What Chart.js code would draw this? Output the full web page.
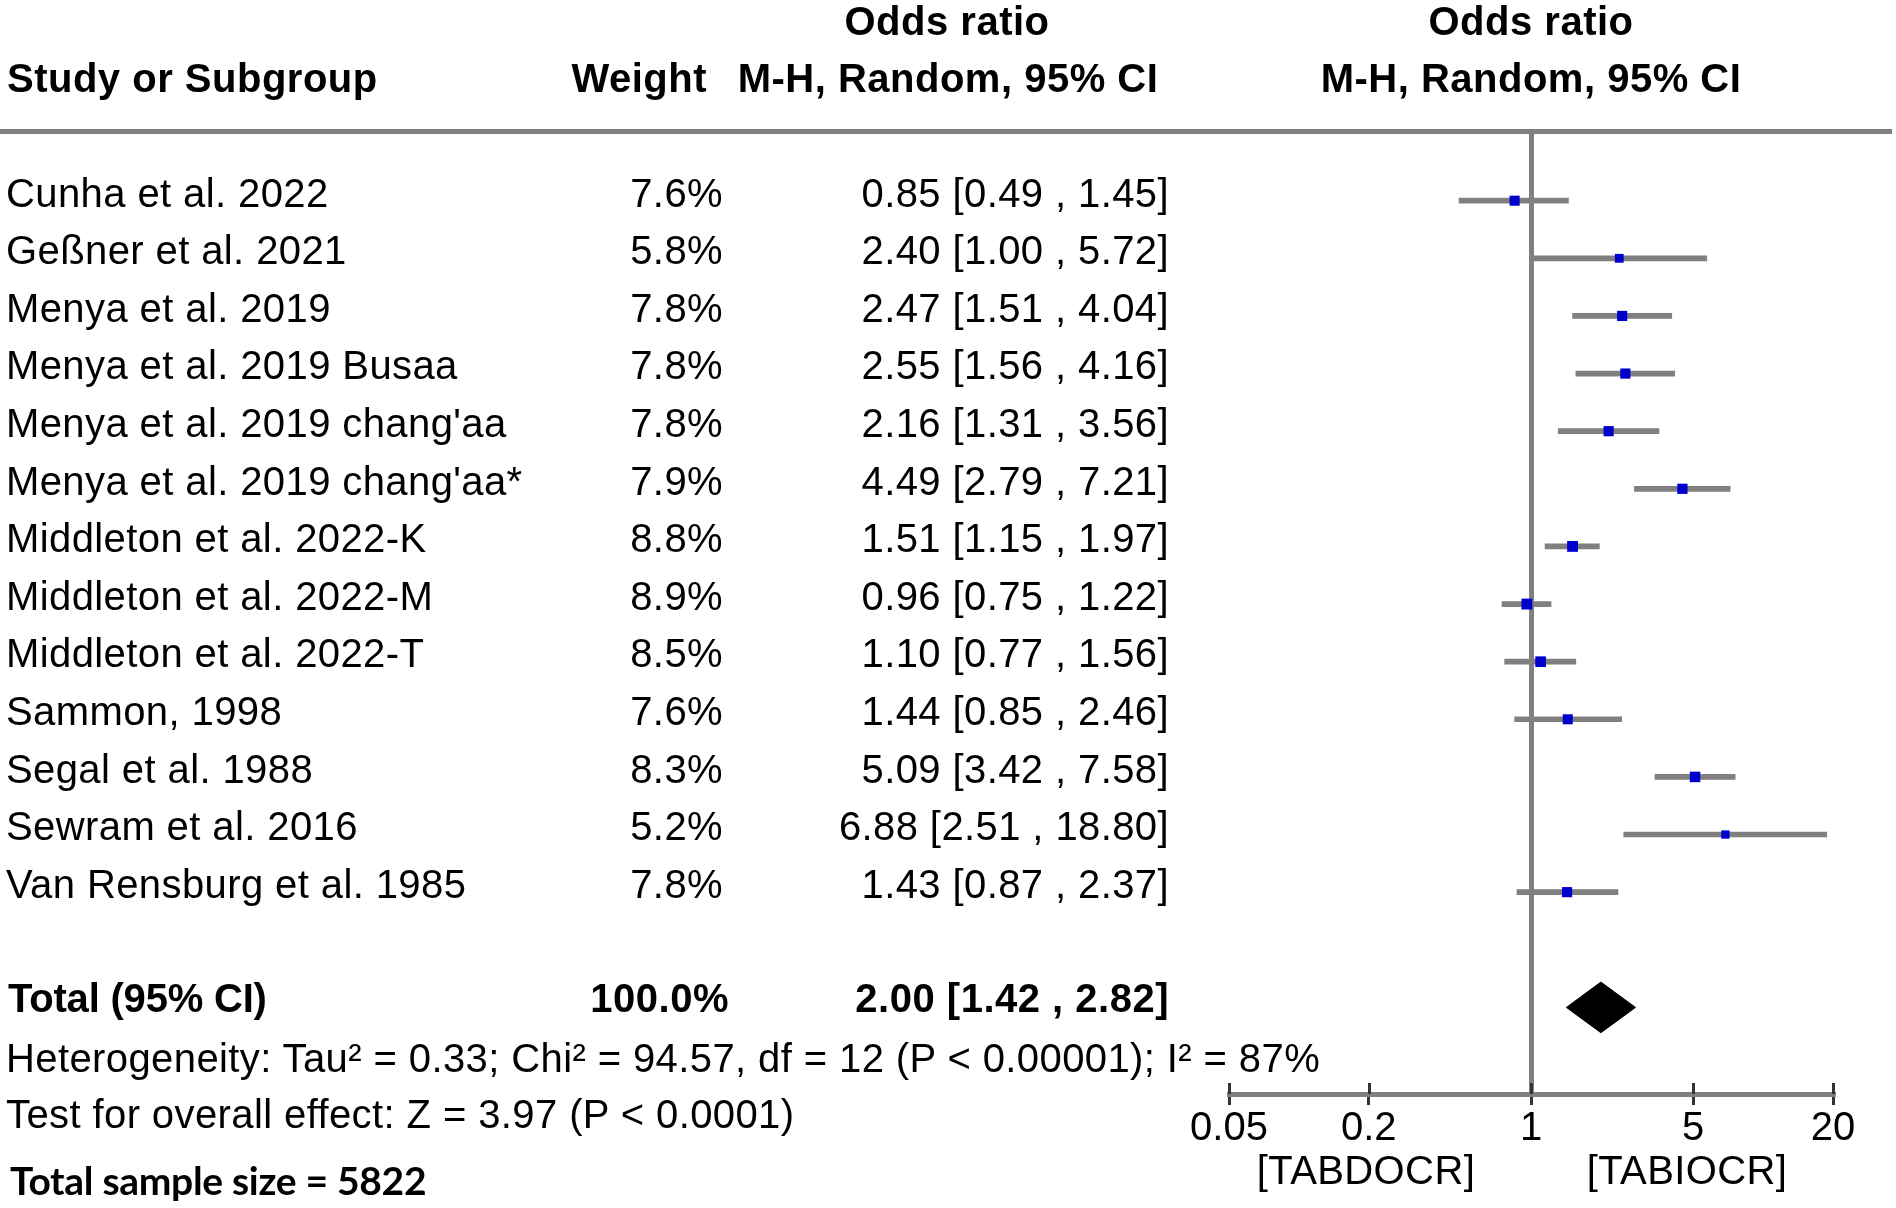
<!DOCTYPE html>
<html><head><meta charset="utf-8">
<script src="https://cdn.jsdelivr.net/npm/chart.js@4.4.0/dist/chart.umd.min.js"></script>
<style>
html,body{margin:0;padding:0;background:#fff;}
#wrap{position:relative;width:1896px;height:1208px;overflow:hidden;background:#fff;}
#c{position:absolute;left:0;top:0;width:1896px;height:1208px;}
.t{position:absolute;white-space:nowrap;font-family:"Liberation Sans",Arial,sans-serif;font-size:40px;line-height:40px;color:#000;letter-spacing:0.4px;}
.b{font-weight:bold;letter-spacing:0.5px;}
.bt{font-weight:bold;letter-spacing:-0.2px;}
.s{font-family:Lato,"Noto Sans",sans-serif;font-weight:bold;font-size:39px;letter-spacing:-0.3px;}
</style></head><body>
<div id="wrap"><canvas id="c" width="1896" height="1208"></canvas></div>
<script>
const studies = ["Cunha et al. 2022","Geßner et al. 2021","Menya et al. 2019","Menya et al. 2019 Busaa","Menya et al. 2019 chang'aa","Menya et al. 2019 chang'aa*","Middleton et al. 2022-K","Middleton et al. 2022-M","Middleton et al. 2022-T","Sammon, 1998","Segal et al. 1988","Sewram et al. 2016","Van Rensburg et al. 1985"];
const weights = [7.6,5.8,7.8,7.8,7.8,7.9,8.8,8.9,8.5,7.6,8.3,5.2,7.8];
const oddsRatio = [0.85,2.40,2.47,2.55,2.16,4.49,1.51,0.96,1.10,1.44,5.09,6.88,1.43];
const ciLow = [0.49,1.00,1.51,1.56,1.31,2.79,1.15,0.75,0.77,0.85,3.42,2.51,0.87];
const ciHigh = [1.45,5.72,4.04,4.16,3.56,7.21,1.97,1.22,1.56,2.46,7.58,18.80,2.37];
const totalWeight = 100.0;
const totalOR = 2.00, totalLow = 1.42, totalHigh = 2.82;
const xTicks = [0.05,0.2,1,5,20];
const xTickLabels = ["0.05","0.2","1","5","20"];
const heterogeneityText = "Heterogeneity: Tau² = 0.33; Chi² = 94.57, df = 12 (P < 0.00001); I² = 87%";
const overallText = "Test for overall effect: Z = 3.97 (P < 0.0001)";
const sampleText = "Total sample size = 5822";
const favourLeft = "[TABDOCR]", favourRight = "[TABIOCR]";

const totalRow = studies.length + 1;
const diamondHalf = 0.44;
const GRAY = '#808080';

const decor = {
  id: 'decor',
  beforeDraw(chart) {
    const c = chart.ctx; c.save();
    c.fillStyle = GRAY; c.fillRect(0, 129, 1892, 5);
    c.restore();
  },
  afterDraw(chart) {
    const xs = chart.scales.x, c = chart.ctx, y = xs.top;
    c.save(); c.strokeStyle = '#333'; c.lineWidth = 3;
    xs.ticks.forEach(t => {
      const px = Math.round(xs.getPixelForValue(t.value)) + 0.5;
      c.beginPath(); c.moveTo(px, y - 11); c.lineTo(px, y); c.stroke();
    });
    c.restore();
  }
};

const ctx = document.getElementById('c').getContext('2d');
const chart = new Chart(ctx, {
  type: 'scatter',
  data: {
    datasets: [
      {
        type: 'bar', indexAxis: 'y',
        data: studies.map((s, i) => ({ y: i, x: [ciLow[i], ciHigh[i]] })),
        backgroundColor: GRAY, borderWidth: 0, barThickness: 5, grouped: false, order: 3
      },
      {
        type: 'scatter', showLine: true, fill: 'shape', tension: 0,
        data: [
          { x: totalLow, y: totalRow }, { x: totalOR, y: totalRow - diamondHalf },
          { x: totalHigh, y: totalRow }, { x: totalOR, y: totalRow + diamondHalf },
          { x: totalLow, y: totalRow }
        ],
        borderColor: '#000', backgroundColor: '#000', borderWidth: 1, pointRadius: 0, order: 2
      },
      {
        type: 'scatter',
        data: oddsRatio.map((v, i) => ({ x: v, y: i })),
        pointStyle: 'rect',
        pointRadius: c => 2.58 * Math.sqrt(weights[c.dataIndex] || 7),
        backgroundColor: '#0000CD', borderWidth: 0, order: 1
      }
    ]
  },
  options: {
    responsive: false, animation: false, devicePixelRatio: 1,
    layout: { padding: { left: 1229, right: 63, top: 130, bottom: 0 } },
    plugins: { legend: { display: false }, tooltip: { enabled: false } },
    scales: {
      x: {
        type: 'logarithmic', min: 0.05, max: 20, position: 'bottom', offset: false,
        afterBuildTicks: s => { s.ticks = xTicks.map(v => ({ value: v })); },
        afterFit: s => { s.height = 114; },
        ticks: {
          autoSkip: false, maxRotation: 0, minRotation: 0, padding: 0, color: '#000',
          font: { family: '"Liberation Sans", Arial, sans-serif', size: 40 },
          callback: (v) => { const k = xTicks.indexOf(v); return k >= 0 ? xTickLabels[k] : ''; }
        },
        grid: {
          offset: false, drawOnChartArea: true, drawTicks: true, tickLength: 11, tickWidth: 3, tickColor: '#333',
          lineWidth: 5,
          color: c => (c.tick && c.tick.value === 1) ? GRAY : 'rgba(0,0,0,0)'
        },
        border: { display: true, color: GRAY, width: 5 }
      },
      y: {
        type: 'linear', reverse: true, display: false, offset: false,
        grid: { offset: false },
        min: -1.227, max: 15.503
      }
    }
  },
  plugins: [decor]
});

const wrap = document.getElementById('wrap');
function put(text, x, capY, align, cls, capOff) {
  const d = document.createElement('div');
  d.className = 't ' + (cls || '');
  d.textContent = text;
  d.style.left = x + 'px';
  d.style.top = (capY - (capOff || 19.5)) + 'px';
  if (align === 'right') d.style.transform = 'translateX(-100%)';
  else if (align === 'center') d.style.transform = 'translateX(-50%)';
  wrap.appendChild(d);
}
const fmt = v => v.toFixed(2);
const ys = chart.scales.y;

// headers
put("Odds ratio", 947, 20, 'center', 'b');
put("Odds ratio", 1531, 20, 'center', 'b');
put("Study or Subgroup", 7, 77, 'left', 'b');
put("Weight", 707, 77, 'right', 'b');
put("M-H, Random, 95% CI", 948, 77, 'center', 'b');
put("M-H, Random, 95% CI", 1531, 77, 'center', 'b');

studies.forEach((s, i) => {
  const cy = ys.getPixelForValue(i) - 8.7;
  put(s, 6, cy, 'left');
  put(weights[i].toFixed(1) + '%', 723, cy, 'right');
  put(fmt(oddsRatio[i]) + ' [' + fmt(ciLow[i]) + ' , ' + fmt(ciHigh[i]) + ']', 1169, cy, 'right');
});

const ty = ys.getPixelForValue(totalRow) - 9.5;
put("Total (95% CI)", 8, ty, 'left', 'bt');
put(totalWeight.toFixed(1) + '%', 729, ty, 'right', 'b');
put(fmt(totalOR) + ' [' + fmt(totalLow) + ' , ' + fmt(totalHigh) + ']', 1169, ty, 'right', 'b');

put(heterogeneityText, 6, 1057, 'left');
put(overallText, 6, 1113, 'left');
put(sampleText, 10, 1181, 'left', 's', 20.6);
put(favourLeft, 1366, 1169, 'center');
put(favourRight, 1687, 1169, 'center');
</script>
</body></html>
